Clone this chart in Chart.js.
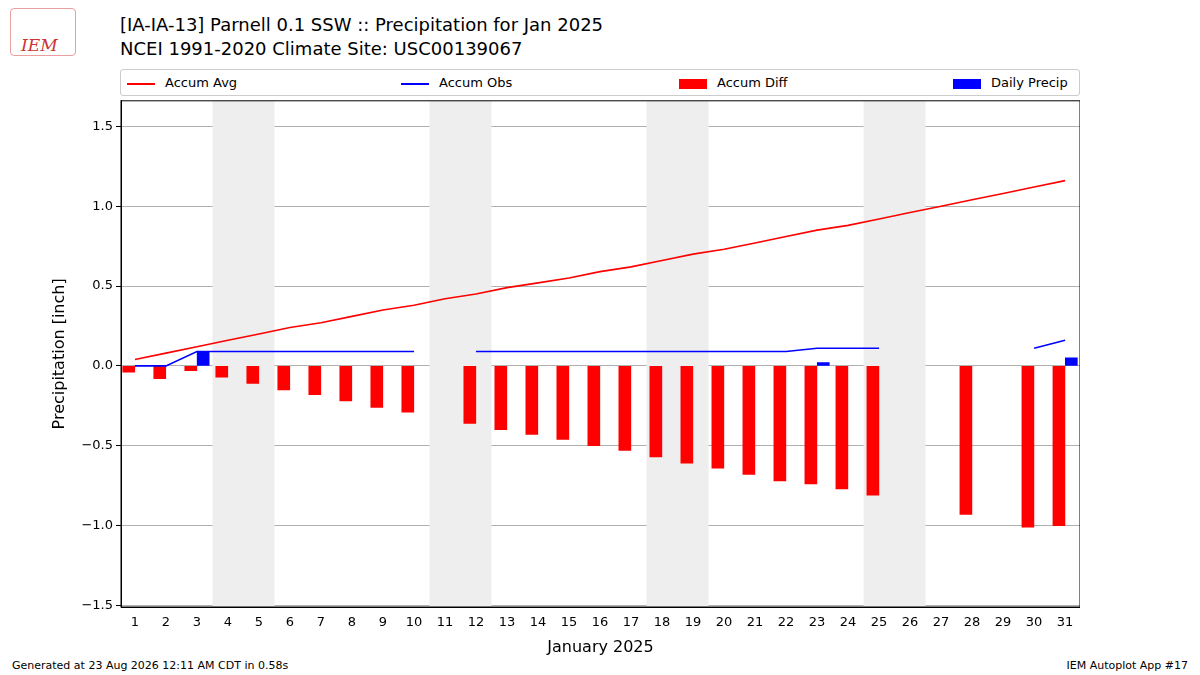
<!DOCTYPE html>
<html><head><meta charset="utf-8">
<script src="https://cdn.jsdelivr.net/npm/chart.js@4"></script>
<style>
body{margin:0;width:1200px;height:675px;background:#fff;font-family:"DejaVu Sans",sans-serif;position:relative;overflow:hidden}
.t{position:absolute;left:120px;font-size:18px;color:#000}
#legend{position:absolute;left:120px;top:69px;width:958px;height:25px;border:1px solid #ccc;border-radius:3px;font-size:13px}
.li{position:absolute;top:5px}
.ln{display:inline-block;width:28px;height:2px;vertical-align:middle;margin-right:10px}
.bx{display:inline-block;width:28px;height:10px;vertical-align:middle;margin-right:10px}
.f{position:absolute;top:659px;font-size:11px}
#wrap{position:absolute;left:50px;top:90px;width:1030px;height:567px}
</style></head><body>
<div style="position:absolute;left:10px;top:8px;width:66px;height:48px;border:1px solid #e8a0a0;border-radius:4px;color:#c33;font-style:italic;font-family:'DejaVu Serif';font-size:17px;padding:26px 0 0 10px;box-sizing:border-box">IEM</div>
<div class="t" style="top:14px">[IA-IA-13] Parnell 0.1 SSW :: Precipitation for Jan 2025</div>
<div class="t" style="top:38px">NCEI 1991-2020 Climate Site: USC00139067</div>
<div id="legend">
<span class="li" style="left:6px"><span class="ln" style="background:red"></span>Accum Avg</span>
<span class="li" style="left:280px"><span class="ln" style="background:blue"></span>Accum Obs</span>
<span class="li" style="left:558px"><span class="bx" style="background:red"></span>Accum Diff</span>
<span class="li" style="left:832px"><span class="bx" style="background:blue"></span>Daily Precip</span>
</div>
<div id="wrap"><canvas id="c"></canvas></div>
<div class="f" style="left:12px">Generated at 23 Aug 2026 12:11 AM CDT in 0.58s</div>
<div class="f" style="right:12px">IEM Autoplot App #17</div>
<script>
const days = Array.from({length: 31}, (_, i) => i + 1);
const accumAvg = [0.04,0.08,0.12,0.16,0.20,0.24,0.27,0.31,0.35,0.38,0.42,0.45,0.49,0.52,0.55,0.59,0.62,0.66,0.70,0.73,0.77,0.81,0.85,0.88,0.92,0.96,1.00,1.04,1.08,1.12,1.16];
const accumObs = [0,0,0.09,0.09,0.09,0.09,0.09,0.09,0.09,0.09,null,0.09,0.09,0.09,0.09,0.09,0.09,0.09,0.09,0.09,0.09,0.09,0.11,0.11,0.11,null,null,null,null,0.11,0.16];
const accumDiff = [-0.04,-0.08,-0.03,-0.07,-0.11,-0.15,-0.18,-0.22,-0.26,-0.29,null,-0.36,-0.40,-0.43,-0.46,-0.50,-0.53,-0.57,-0.61,-0.64,-0.68,-0.72,-0.74,-0.77,-0.81,null,null,-0.93,null,-1.01,-1.00];
const dailyPrecip = [null,null,0.09,null,null,null,null,null,null,null,null,null,null,null,null,null,null,null,null,null,null,null,0.02,null,null,null,null,null,null,null,0.05];
const weekends = [[3.5,5.5],[10.5,12.5],[17.5,19.5],[24.5,26.5]];
const yTicks = [-1.5,-1.0,-0.5,0.0,0.5,1.0,1.5];

const shade = {
  id: 'shade',
  beforeDatasetsDraw(ch) {
    const {ctx, chartArea: a, scales: {x}} = ch;
    ctx.save(); ctx.fillStyle = '#eeeeee';
    weekends.forEach(([s, e]) => {
      const l = x.getPixelForValue(s), r = x.getPixelForValue(e);
      ctx.fillRect(l, a.top, r - l, a.bottom - a.top);
    });
    ctx.restore();
  }
};
const frame = {
  id: 'frame',
  afterDraw(ch) {
    const {ctx, chartArea: a} = ch;
    ctx.save(); ctx.strokeStyle = '#000'; ctx.lineWidth = 1;
    ctx.strokeRect(a.left, a.top, a.right - a.left, a.bottom - a.top);
    ctx.restore();
  }
};

new Chart(document.getElementById('c'), {
  data: {
    datasets: [
      {type: 'bar', label: 'Accum Diff', data: days.map((d, i) => ({x: d - 0.2, y: accumDiff[i]})), backgroundColor: 'red', barThickness: 12, grouped: false, order: 3},
      {type: 'bar', label: 'Daily Precip', data: days.map((d, i) => ({x: d + 0.2, y: dailyPrecip[i]})), backgroundColor: 'blue', barThickness: 12, grouped: false, order: 2},
      {type: 'line', label: 'Accum Avg', data: days.map((d, i) => ({x: d, y: accumAvg[i]})), borderColor: 'red', borderWidth: 1.6, pointRadius: 0, order: 1},
      {type: 'line', label: 'Accum Obs', data: days.map((d, i) => ({x: d, y: accumObs[i]})), borderColor: 'blue', borderWidth: 1.6, pointRadius: 0, spanGaps: false, order: 0}
    ]
  },
  options: {
    responsive: true, maintainAspectRatio: false, animation: false,
    layout: {padding: 0},
    plugins: {legend: {display: false}, tooltip: {enabled: false}},
    scales: {
      x: {
        type: 'linear', min: 0.55, max: 31.48, offset: false,
        afterBuildTicks: s => { s.ticks = days.map(v => ({value: v})); },
        afterFit: s => { s.height = 50; },
        grid: {display: false, drawTicks: true, tickLength: 5, tickColor: '#000', offset: false},
        border: {color: '#000'},
        ticks: {color: '#000', font: {size: 13, family: 'DejaVu Sans'}, maxRotation: 0, autoSkip: false, padding: 3},
        title: {display: true, text: 'January 2025', color: '#000', font: {size: 16, family: 'DejaVu Sans'}, padding: 0}
      },
      y: {
        min: -1.51, max: 1.66,
        afterBuildTicks: s => { s.ticks = yTicks.map(v => ({value: v})); },
        afterFit: s => { s.width = 71; },
        grid: {color: '#b0b0b0', tickColor: '#000', tickLength: 5},
        border: {color: '#000'},
        ticks: {color: '#000', font: {size: 13, family: 'DejaVu Sans'}, padding: 3, callback: v => v.toFixed(1).replace('-', '\u2212')},
        title: {display: true, text: 'Precipitation [inch]', color: '#000', font: {size: 16, family: 'DejaVu Sans'}, padding: 0}
      }
    }
  },
  plugins: [shade, frame]
});
</script>
</body></html>
